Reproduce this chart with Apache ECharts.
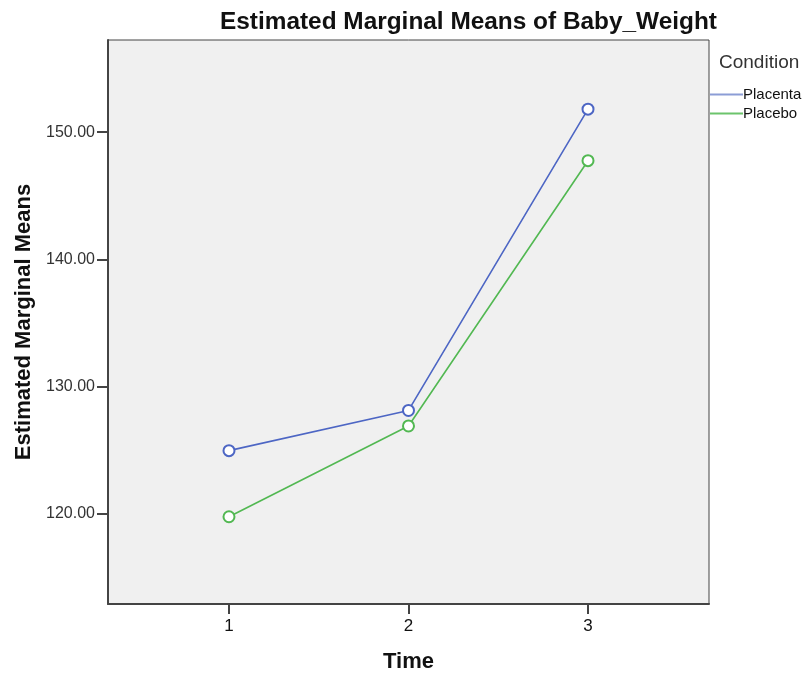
<!DOCTYPE html>
<html>
<head>
<meta charset="utf-8">
<title>Estimated Marginal Means of Baby_Weight</title>
<script src="https://cdn.jsdelivr.net/npm/echarts@6/dist/echarts.min.js"></script>
<style>
  html, body { margin: 0; padding: 0; background: #fff; }
  #chart { width: 809px; height: 673px; }
</style>
</head>
<body>
<div id="chart"></div>
<script>
  // data
  var times = [1, 2, 3];
  var placenta = [124.96, 128.12, 151.81];
  var placebo = [119.76, 126.90, 147.76];
  var yTicks = [120, 130, 140, 150];

  function pairs(vals) {
    return times.map(function (t, i) { return [t, vals[i]]; });
  }

  var font = '"Liberation Sans", Arial, sans-serif';
  var chart = echarts.init(document.getElementById('chart'));

  var option = {
    animation: false,
    textStyle: { fontFamily: font },
    title: [{
      text: 'Estimated Marginal Means of Baby_Weight',
      left: 215,
      top: 5,
      textStyle: { fontFamily: font, fontSize: 24.4, fontWeight: 'bold', color: '#111' }
    }, {
      text: 'Condition',
      left: 714,
      top: 48,
      textStyle: { fontFamily: font, fontSize: 19, fontWeight: 'normal', color: '#333' }
    }],
    legend: {
      orient: 'vertical',
      left: 705,
      top: 82,
      itemWidth: 33,
      itemHeight: 2,
      itemGap: 4,
      icon: 'rect',
      textStyle: { fontFamily: font, fontSize: 15, lineHeight: 15, color: '#111', padding: [0, 0, 0, -5] },
      data: [
        { name: 'Placenta', itemStyle: { color: '#8c9dd6' } },
        { name: 'Placebo', itemStyle: { color: '#6cc46c' } }
      ]
    },
    grid: {
      left: 108,
      right: 100,
      top: 40,
      bottom: 69,
      outerBoundsMode: 'none',
      show: true,
      backgroundColor: '#f0f0f0',
      borderColor: '#444',
      borderWidth: 1
    },
    xAxis: {
      type: 'value',
      min: 1 - 0.674,
      max: 3 + 0.674,
      name: 'Time',
      nameLocation: 'middle',
      nameGap: 47,
      nameTextStyle: { fontFamily: font, fontSize: 22, fontWeight: 'bold', color: '#111' },
      splitLine: { show: false },
      axisLine: { show: true, lineStyle: { color: '#444', width: 2 } },
      axisTick: { show: true, length: 10, customValues: times, lineStyle: { color: '#444', width: 2 } },
      axisLabel: {
        customValues: times,
        fontFamily: font, fontSize: 17, color: '#111', margin: 14
      }
    },
    yAxis: {
      type: 'value',
      min: 112.9,
      max: 157.25,
      name: 'Estimated Marginal Means',
      nameLocation: 'middle',
      nameGap: 68,
      nameTextStyle: { fontFamily: font, fontSize: 22, fontWeight: 'bold', color: '#111' },
      splitLine: { show: false },
      axisLine: { show: true, lineStyle: { color: '#444', width: 2 } },
      axisTick: { show: true, length: 11, customValues: yTicks, lineStyle: { color: '#444', width: 2 } },
      axisLabel: {
        customValues: yTicks,
        fontFamily: font, fontSize: 16, color: '#333', margin: 13,
        formatter: function (v) { return v.toFixed(2); }
      }
    },
    series: [{
      name: 'Placenta',
      type: 'line',
      data: pairs(placenta),
      symbol: 'emptyCircle',
      symbolSize: 11,
      lineStyle: { color: '#4d66c4', width: 1.6 },
      itemStyle: { color: '#4d66c4', borderWidth: 1.6 }
    }, {
      name: 'Placebo',
      type: 'line',
      data: pairs(placebo),
      symbol: 'emptyCircle',
      symbolSize: 11,
      lineStyle: { color: '#52b852', width: 1.6 },
      itemStyle: { color: '#52b852', borderWidth: 1.6 }
    }]
  };

  chart.setOption(option);
</script>
</body>
</html>
